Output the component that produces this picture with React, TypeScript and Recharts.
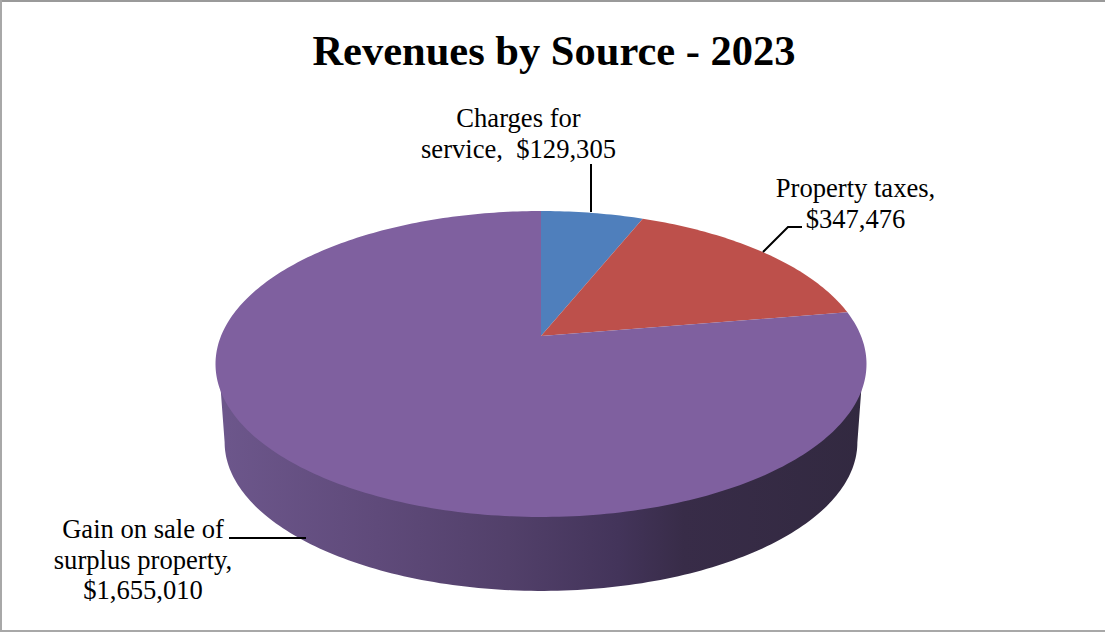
import { Pie, PieChart } from "recharts";

const WIDTH = 1105;
const HEIGHT = 632;

const sources = ["Charges for service", "Property taxes", "Gain on sale of surplus property"];
const revenues = [129305, 347476, 1655010];
const colors = ["#4f7fbc", "#bd504b", "#7f609f"];

const rows = sources.map((name, i) => ({ name, value: revenues[i], fill: colors[i] }));

// Label text, split the way the picture wraps it
const labelLines = [
  ["Charges for", "service,\u00a0 $129,305"],
  ["Property taxes,", "$347,476"],
  ["Gain on sale of", "surplus property,", "$1,655,010"],
];

const labelLayout = [
  { x: 518.5, y: 127, leader: "591,164 591,212" },
  { x: 855.5, y: 197, leader: "802,227 788,227 763,252" },
  { x: 143, y: 538, leader: "229,538 306,538" },
];

// The disc is a circle seen through a projective tilt, so its centre sits above the ellipse's centre.
const TILT = 0.462;
const PERSPECTIVE = -0.183;
const WALL_DROP = 79;
const WALL_SCALE = 0.972;
const SILHOUETTE_ANGLE = 10.55;

function project(cx: number, cy: number, r: number, deg: number) {
  const a = (deg * Math.PI) / 180;
  const u = Math.cos(a);
  const v = -Math.sin(a);
  const w = 1 + PERSPECTIVE * v;
  return [cx + (r * u) / w, cy + (r * TILT * v) / w];
}

function arcPoints(cx: number, cy: number, r: number, from: number, to: number) {
  const steps = Math.max(2, Math.ceil(Math.abs(from - to)));
  const pts: number[][] = [];
  for (let i = 0; i <= steps; i++) {
    pts.push(project(cx, cy, r, from + ((to - from) * i) / steps));
  }
  return pts;
}

const toPath = (pts: number[][]) =>
  pts.map((p, i) => `${i ? "L" : "M"}${p[0].toFixed(2)},${p[1].toFixed(2)}`).join(" ");

function DiscSlice(props: any) {
  const { cx, cy, outerRadius, startAngle, endAngle, fill } = props;
  const top = [[cx, cy], ...arcPoints(cx, cy, outerRadius, startAngle, endAngle)];

  // only the front of the rim shows a wall; its upper edge tucks under the top face to hide the seam
  const from = Math.min(startAngle, -SILHOUETTE_ANGLE);
  const to = Math.max(endAngle, -180 + SILHOUETTE_ANGLE);
  let wall = "";
  if (from > to) {
    const upper = arcPoints(cx, cy, outerRadius * 0.99, from, to);
    const lower = arcPoints(cx, cy + WALL_DROP, outerRadius * WALL_SCALE, to, from);
    wall = toPath([...upper, ...lower]) + " Z";
  }

  return (
    <g>
      {wall && <path d={wall} fill="url(#wallShade)" />}
      <path d={toPath(top) + " Z"} fill={fill} />
    </g>
  );
}

function SliceLabel({ index }: any) {
  const layout = labelLayout[index];
  return (
    <g>
      <polyline points={layout.leader} fill="none" stroke="#000" strokeWidth={2} />
      <text
        x={layout.x}
        y={layout.y}
        textAnchor="middle"
        fontFamily="'Liberation Serif', serif"
        fontSize={26.6}
        fill="#000"
      >
        {labelLines[index].map((line, i) => (
          <tspan key={line} x={layout.x} dy={i ? 30.5 : 0}>
            {line}
          </tspan>
        ))}
      </text>
    </g>
  );
}

export default function App() {
  return (
    <div
      style={{
        position: "absolute",
        left: 0,
        top: 0,
        width: WIDTH,
        height: HEIGHT,
        boxSizing: "border-box",
        background: "#fff",
        overflow: "hidden",
      }}
    >
      <PieChart width={WIDTH} height={HEIGHT} margin={{ top: 0, right: 0, bottom: 0, left: 0 }}>
        <defs>
          <linearGradient id="wallShade" gradientUnits="userSpaceOnUse" x1={215} y1={0} x2={866} y2={0}>
            <stop offset="0" stopColor="#6d578c" />
            <stop offset="0.25" stopColor="#5f4a7a" />
            <stop offset="0.45" stopColor="#52406a" />
            <stop offset="0.62" stopColor="#43345a" />
            <stop offset="0.72" stopColor="#382c48" />
            <stop offset="1" stopColor="#322940" />
          </linearGradient>
        </defs>
        <rect x={0} y={0} width={WIDTH} height={2} fill="#9a9a9a" />
        <rect x={0} y={0} width={2} height={HEIGHT} fill="#a8a8a8" />
        <rect x={0} y={HEIGHT - 2} width={WIDTH} height={2} fill="#a8a8a8" />
        <text
          x={554}
          y={65}
          textAnchor="middle"
          fontFamily="'Liberation Serif', serif"
          fontWeight="bold"
          fontSize={42.5}
          fill="#000"
        >
          Revenues by Source - 2023
        </text>
        <Pie
          data={rows}
          dataKey="value"
          nameKey="name"
          cx={541}
          cy={336}
          outerRadius={320}
          startAngle={90}
          endAngle={-270}
          stroke="none"
          shape={DiscSlice}
          label={SliceLabel}
          labelLine={false}
          isAnimationActive={false}
        />
      </PieChart>
    </div>
  );
}
